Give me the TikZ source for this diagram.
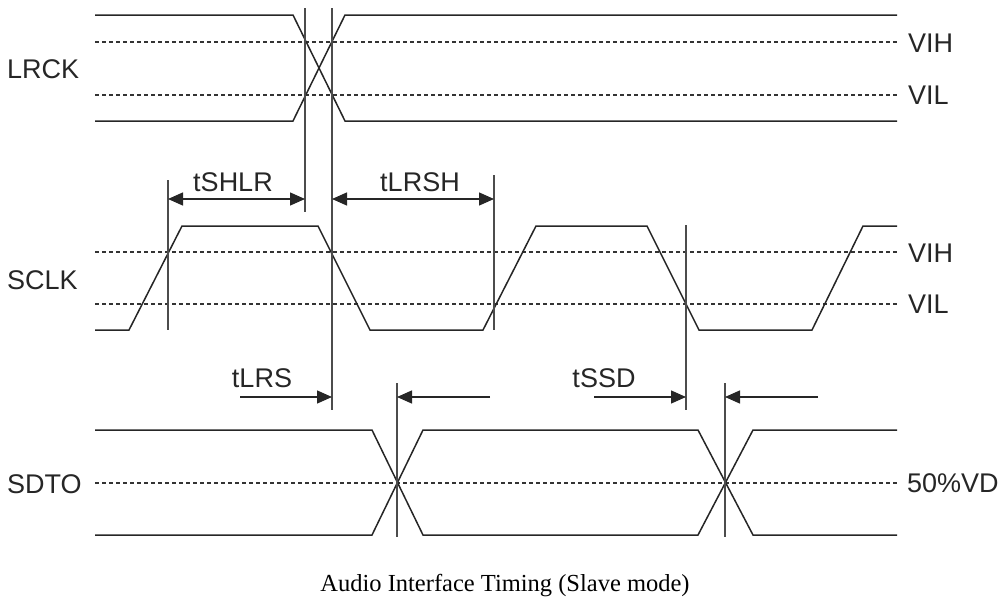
\documentclass[tikz,border=0pt]{standalone}
\usepackage{fontspec}
\setmainfont{Liberation Serif}
\setsansfont{Liberation Sans}
\usetikzlibrary{arrows.meta}
\tikzset{
    signal/.style={line width=1.5pt,black!85},
    threshold/.style={line width=1.3pt,black!80,dash pattern=on 4pt off 3pt},
    cursor/.style={line width=1.8pt,black!70},
    tag/.style={font=\sffamily\fontsize{27}{27}\selectfont,inner sep=0pt,text=black!85},
    span/.style={line width=1.4pt,black!85,arrows={-Triangle[length=15pt,width=13pt]}},
    twospan/.style={span,arrows={Triangle[length=15pt,width=13pt]-Triangle[length=15pt,width=13pt]}},
}
\begin{document}
\begin{tikzpicture}[x=1pt,y=-1pt]
    \useasboundingbox (0,0) rectangle (1007,605);

    % LRCK
    \draw[threshold] (95,42) -- (897,42);
    \draw[threshold] (95,95) -- (897,95);
    \draw[signal] (95,15) -- (293,15) -- (345,121) -- (897,121);
    \draw[signal] (95,121) -- (293,121) -- (345,15) -- (897,15);
    \node[tag,anchor=west] (lrck) at (7,69) {LRCK};
    \node[tag,anchor=west] (vih1) at (908,43) {VIH};
    \node[tag,anchor=west] (vil1) at (908,95) {VIL};

    % SCLK
    \draw[threshold] (95,252) -- (897,252);
    \draw[threshold] (95,304) -- (897,304);
    \draw[signal] (95,330) -- (129,330) -- (182,226) -- (318,226) -- (370,330)
        -- (483,330) -- (536,226) -- (647,226) -- (699,330) -- (812,330)
        -- (863,226) -- (897,226);
    \node[tag,anchor=west] (sclk) at (7,280) {SCLK};
    \node[tag,anchor=west] (vih2) at (908,253) {VIH};
    \node[tag,anchor=west] (vil2) at (908,304) {VIL};

    % SDTO
    \draw[threshold] (95,483) -- (897,483);
    \draw[signal] (95,430) -- (372,430) -- (423,535) -- (698,535) -- (753,430) -- (897,430);
    \draw[signal] (95,535) -- (372,535) -- (423,430) -- (698,430) -- (753,535) -- (897,535);
    \node[tag,anchor=west] (sdto) at (7,484) {SDTO};
    \node[tag,anchor=west] (vd) at (907,483) {50\%VD};

    % reference lines
    \coordinate (shA) at (168,180);  \coordinate (shB) at (168,330);
    \coordinate (lrA) at (305,8);    \coordinate (lrB) at (305,212);
    \coordinate (lsA) at (332,8);    \coordinate (lsB) at (332,410);
    \coordinate (rhA) at (494,175);  \coordinate (rhB) at (494,330);
    \coordinate (sdA) at (686,225);  \coordinate (sdB) at (686,410);
    \coordinate (xaA) at (397,383);  \coordinate (xaB) at (397,537);
    \coordinate (xbA) at (725,383);  \coordinate (xbB) at (725,537);
    \draw[cursor] (shA) -- (shB);
    \draw[cursor] (lrA) -- (lrB);
    \draw[cursor] (lsA) -- (lsB);
    \draw[cursor] (rhA) -- (rhB);
    \draw[cursor] (sdA) -- (sdB);
    \draw[cursor] (xaA) -- (xaB);
    \draw[cursor] (xbA) -- (xbB);

    % timing arrows
    \draw[twospan] (168,199) -- (305,199);
    \draw[twospan] (332,199) -- (494,199);
    \coordinate (lrsTail) at (240,397);
    \coordinate (lrsHead) at (332,397);
    \coordinate (xaTail) at (490,397);
    \coordinate (xaHead) at (397,397);
    \coordinate (ssdTail) at (594,397);
    \coordinate (ssdHead) at (686,397);
    \coordinate (xbTail) at (818,397);
    \coordinate (xbHead) at (725,397);
    \draw[span] (lrsTail) -- (lrsHead);
    \draw[span] (xaTail) -- (xaHead);
    \draw[span] (ssdTail) -- (ssdHead);
    \draw[span] (xbTail) -- (xbHead);

    \node[tag] (tshlr) at (233,182) {tSHLR};
    \node[tag] (tlrsh) at (420,182) {tLRSH};
    \node[tag] (tlrs) at (262,378) {tLRS};
    \node[tag] (tssd) at (604,378) {tSSD};

    \node[font=\fontsize{24.5}{24.5}\selectfont,inner sep=0pt] (caption) at (505,586)
        {Audio Interface Timing (Slave mode)};
\end{tikzpicture}
\end{document}
